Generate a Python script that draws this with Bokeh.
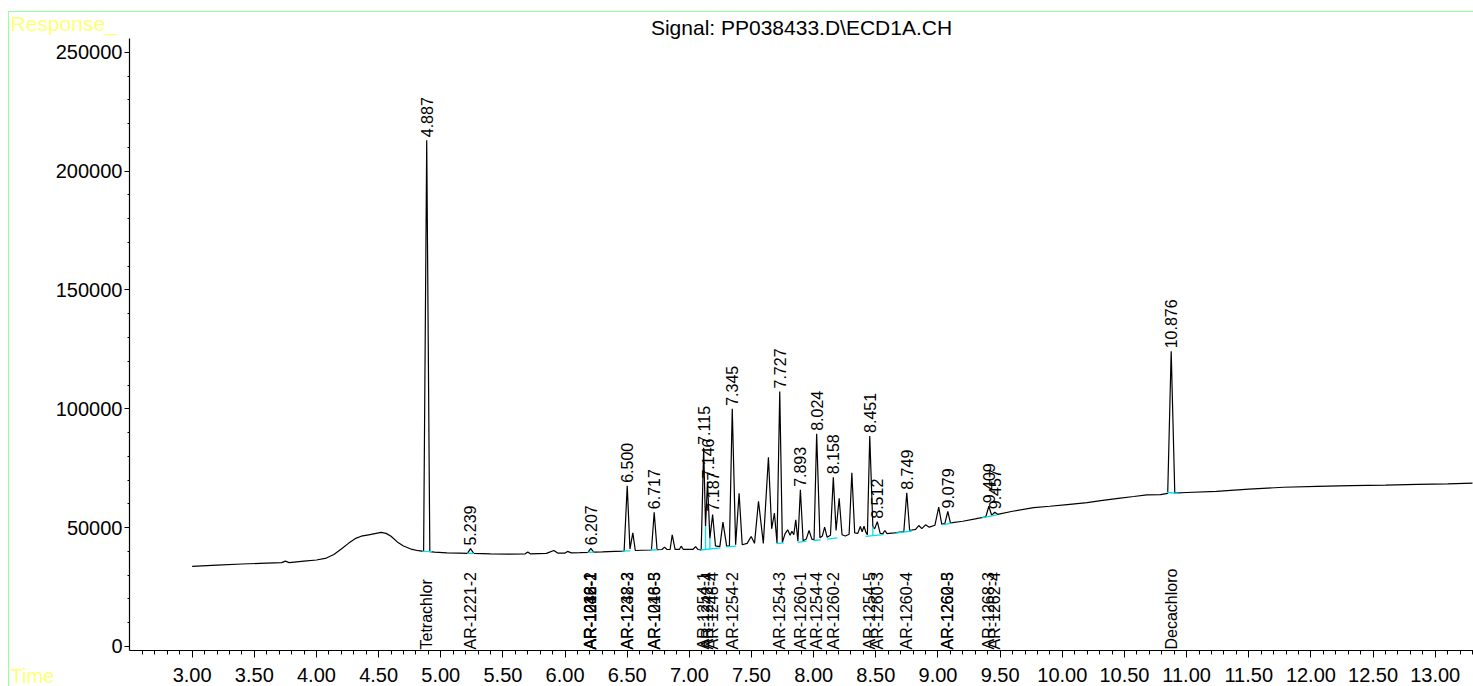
from bokeh.plotting import figure
from bokeh.models import (Range1d, FixedTicker, NumeralTickFormatter, BasicTickFormatter,
                          ColumnDataSource, LabelSet, Label)
from bokeh.core.properties import value
from bokeh.embed import file_html
from bokeh.resources import INLINE

# ---------------- data ----------------
title_text = "Signal: PP038433.D\\ECD1A.CH"

x_major_ticks = [3.0, 3.5, 4.0, 4.5, 5.0, 5.5, 6.0, 6.5, 7.0, 7.5, 8.0, 8.5, 9.0,
                 9.5, 10.0, 10.5, 11.0, 11.5, 12.0, 12.5, 13.0]
x_minor_ticks = [round(2.6 + 0.1 * i, 1) for i in range(108)]
y_major_ticks = [0, 50000, 100000, 150000, 200000, 250000]
y_minor_ticks = list(range(0, 260000, 10000))

# labelled (integrated) peaks: retention time, apex response
peak_rt = [4.887, 5.239, 6.207, 6.500, 6.717, 7.115, 7.146, 7.187, 7.345, 7.727,
           7.893, 8.024, 8.158, 8.451, 8.512, 8.749, 9.079, 9.409, 9.457, 10.876]
peak_height = [213000, 41200, 41300, 67600, 56500, 83600, 69400, 55500, 100000, 107300,
               65900, 89500, 71200, 88600, 52500, 64700, 56800, 59000, 56500, 124200]
peak_label = ["4.887", "5.239", "6.207", "6.500", "6.717", "7.115", "7.146", "7.187",
              "7.345", "7.727", "7.893", "8.024", "8.158", "8.451", "8.512", "8.749",
              "9.079", "9.409", "9.457", "10.876"]

# remaining points of the signal trace (baseline, peak feet, unlabelled peaks)
trace_t = [3.00, 3.20, 3.40, 3.60, 3.72, 3.75, 3.78, 3.90, 4.00, 4.08, 4.14, 4.20, 4.26,
           4.32, 4.36, 4.42, 4.47, 4.52, 4.56, 4.60, 4.65, 4.70, 4.76, 4.82, 4.862,
           4.912, 4.95, 5.05, 5.15, 5.215,
           5.265, 5.40, 5.55, 5.68, 5.70, 5.72, 5.85, 5.91, 5.94, 6.00, 6.02, 6.05, 6.12, 6.185,
           6.23, 6.30, 6.40, 6.475,
           6.522, 6.545, 6.565, 6.62, 6.695,
           6.74, 6.78, 6.80, 6.82, 6.845, 6.862, 6.885, 6.92, 6.934, 6.95, 7.03, 7.05, 7.07, 7.095,
           7.130, 7.165,
           7.21, 7.245, 7.27, 7.30, 7.322,
           7.372, 7.40, 7.425, 7.465, 7.497, 7.524, 7.556, 7.595, 7.636, 7.662, 7.684, 7.705,
           7.748, 7.77, 7.791, 7.81, 7.825, 7.84, 7.856, 7.873,
           7.915, 7.94, 7.963, 7.985, 8.003,
           8.05, 8.07, 8.088, 8.108, 8.135,
           8.18, 8.205, 8.228, 8.255, 8.285, 8.307, 8.33, 8.355, 8.375, 8.39, 8.405, 8.42, 8.432,
           8.476, 8.49,
           8.535, 8.555, 8.573, 8.59, 8.65, 8.725,
           8.772, 8.82, 8.845, 8.87, 8.90, 8.93, 8.975, 9.006, 9.03, 9.055,
           9.10, 9.20, 9.30, 9.385,
           9.432,
           9.48, 9.60, 9.77, 9.90, 10.04, 10.20, 10.31, 10.45, 10.575, 10.68, 10.79, 10.848,
           10.905, 11.00, 11.24, 11.50, 11.78, 12.05, 12.32, 12.60, 12.855, 13.10, 13.30]
trace_y = [33700, 34200, 34700, 35100, 35300, 35900, 35300, 35900, 36400, 37200, 38700, 41000, 43500,
           45600, 46400, 47000, 47500, 48000, 47600, 46400, 44000, 42300, 41000, 40300, 40000,
           39900, 39700, 39400, 39300, 39200,
           39200, 39000, 38900, 39000, 39800, 39000, 39200, 40400, 39300, 39300, 40000, 39400, 39500, 39600,
           39700, 39800, 40000, 40100,
           41000, 47800, 40400, 40500, 40600,
           40700, 40800, 41800, 40800, 40800, 47000, 40900, 40900, 42200, 40900, 40900, 42000, 40800, 40600,
           50600, 45500,
           42300, 42000, 52300, 42200, 42300,
           42800, 64500, 42800, 43400, 46300, 43400, 61100, 43400, 79600, 49500, 56100, 43600,
           43800, 47500, 49100, 46800, 48500, 47000, 53300, 44300,
           44500, 45200, 48800, 45200, 44900,
           45800, 46500, 50200, 46000, 46800,
           48800, 62400, 47000, 46500, 47200, 73100, 47800, 47600, 50500, 48300, 50600, 48000, 47000,
           50500, 49500,
           47600, 47400, 48800, 47500, 47800, 48300,
           48800, 49300, 50900, 49600, 51200, 50200, 51000, 58600, 51500, 51700,
           52000, 52700, 53700, 54600,
           55200,
           55600, 56900, 58400, 59000, 59700, 60500, 61400, 62300, 63100, 63800, 63900, 64400,
           64500, 64800, 65300, 66200, 67000, 67400, 67700, 67900, 68200, 68400, 68700]

# integration baselines (cyan): start time/response, end time/response
base_t0 = [4.852, 5.212, 6.182, 6.457, 6.687, 7.090, 7.296, 7.700, 7.872, 8.000, 8.108,
           8.417, 8.658, 9.033, 9.353, 10.838]
base_y0 = [40000, 39200, 39600, 40100, 40600, 40600, 41900, 43300, 43800, 44600, 45200,
           46300, 47700, 51200, 54100, 64900]
base_t1 = [4.930, 5.268, 6.235, 6.524, 6.741, 7.250, 7.377, 7.760, 7.942, 8.057, 8.190,
           8.562, 8.790, 9.114, 9.474, 10.937]
base_y1 = [39900, 39200, 39700, 40200, 40700, 41500, 42200, 43600, 44300, 44900, 45700,
           47100, 48600, 51900, 55400, 64300]
# drop lines separating co-eluting peaks
drop_t = [7.130, 7.165, 8.476]
drop_y0 = [40800, 41100, 46600]
drop_y1 = [50600, 45500, 50500]

# compound names at their expected retention times
compound_names = ["Tetrachlor", "AR-1221-2",
                  "AR-1016-1", "AR-1242-1", "AR-1248-1", "AR-1232-2",
                  "AR-1232-3", "AR-1248-2",
                  "AR-1016-3", "AR-1248-5",
                  "AR-1254-1", "AR-1242-4", "AR-1248-4",
                  "AR-1254-2", "AR-1254-3", "AR-1260-1", "AR-1254-4", "AR-1260-2",
                  "AR-1254-5", "AR-1260-3", "AR-1260-4",
                  "AR-1260-5", "AR-1262-3",
                  "AR-1268-3", "AR-1262-4",
                  "Decachloro"]
compound_rt = [4.887, 5.239,
               6.207, 6.207, 6.207, 6.207,
               6.500, 6.500,
               6.717, 6.717,
               7.115, 7.146, 7.187,
               7.345, 7.727, 7.893, 8.024, 8.158,
               8.451, 8.512, 8.749,
               9.079, 9.079,
               9.409, 9.457,
               10.876]

# ---------------- figure ----------------
FONT = "Liberation Sans"
GREEN = "#99ff99"
YELLOW = "#ffff77"

W, H = 1473, 686
AX_LEFT, AX_TOP, AX_BOTTOM = 129, 38, 650      # axis frame in canvas pixels
t0, t1 = 2.496, 13.308                          # time span of the axis
r0, r1 = -1683, 255800                          # response span of the axis
sx = (W - AX_LEFT) / (t1 - t0)
sy = (AX_BOTTOM - AX_TOP) / (r1 - r0)

# the frame fills the whole canvas; axes are pinned at the axis corner so that
# the report captions outside the axes are not clipped
p = figure(width=W, height=H, output_backend="svg", toolbar_location=None,
           x_range=Range1d(t0 - AX_LEFT / sx, t1),
           y_range=Range1d(r0 - (H - AX_BOTTOM) / sy, r1 + AX_TOP / sy),
           min_border_left=0, min_border_right=0, min_border_top=0, min_border_bottom=0)
p.outline_line_color = None
p.background_fill_color = None
p.border_fill_color = None
p.styles = {
    "background": (f"linear-gradient({GREEN}, {GREEN}) 8px 11px / 1px 100% no-repeat, "
                   f"linear-gradient({GREEN}, {GREEN}) 8px 11px / 100% 1px no-repeat, #ffffff"),
}
p.xgrid.visible = False
p.ygrid.visible = False

xa = p.xaxis[0]
xa.fixed_location = r0
xa.bounds = (t0, t1)
xa.ticker = FixedTicker(ticks=x_major_ticks, minor_ticks=x_minor_ticks)
xa.formatter = NumeralTickFormatter(format="0.00")
xa.major_tick_in = 0
xa.major_tick_out = 7
xa.minor_tick_in = 0
xa.minor_tick_out = 4
xa.major_label_standoff = 10
ya = p.yaxis[0]
ya.fixed_location = t0
ya.bounds = (r0, r1)
ya.ticker = FixedTicker(ticks=y_major_ticks, minor_ticks=y_minor_ticks)
ya.formatter = BasicTickFormatter(use_scientific=False)
ya.major_tick_in = 0
ya.major_tick_out = 5
ya.minor_tick_in = 0
ya.minor_tick_out = 2
ya.major_label_standoff = 2
for ax in (xa, ya):
    ax.axis_line_color = "black"
    ax.axis_line_width = 1.2
    ax.major_tick_line_color = "black"
    ax.minor_tick_line_color = "black"
    ax.major_label_text_font = FONT
    ax.major_label_text_font_size = "20px"
    ax.major_label_text_color = "black"

# signal trace
pts = sorted(zip(trace_t + peak_rt, trace_y + peak_height))
src = ColumnDataSource(dict(t=[a for a, b in pts], y=[b for a, b in pts]))
p.line("t", "y", source=src, line_color="black", line_width=1.2)

# integration baselines
p.segment(x0=base_t0, y0=base_y0, x1=base_t1, y1=base_y1, line_color="#00e0ee", line_width=1.3)
p.segment(x0=drop_t, y0=drop_y0, x1=drop_t, y1=drop_y1, line_color="#00e0ee", line_width=1.3)

# peak retention time labels
psrc = ColumnDataSource(dict(x=peak_rt, y=peak_height, text=peak_label))
p.add_layout(LabelSet(x="x", y="y", text="text", source=psrc, angle=90, angle_units="deg",
                      text_align="left", text_baseline="middle", y_offset=3,
                      text_font=value(FONT), text_font_size=value("16px"),
                      text_color="black"))

# compound names along the bottom
csrc = ColumnDataSource(dict(x=compound_rt, y=[0] * len(compound_rt), text=compound_names))
p.add_layout(LabelSet(x="x", y="y", text="text", source=csrc, angle=90, angle_units="deg",
                      text_align="left", text_baseline="middle", y_offset=-3,
                      text_font=value(FONT), text_font_size=value("16px"),
                      text_color="black"))

# title, centred over the axes
p.add_layout(Label(x=(AX_LEFT + W) / 2, y=H - 15, x_units="screen", y_units="screen",
                   text=title_text, text_font=FONT, text_font_size="21px",
                   text_color="black", text_align="center", text_baseline="top"))

# yellow captions of the original report
p.add_layout(Label(x=10, y=H - 11, x_units="screen", y_units="screen", text="Response_",
                   text_font=FONT, text_font_size="21px", text_color=YELLOW,
                   text_baseline="top", text_align="left"))
p.add_layout(Label(x=10, y=0, x_units="screen", y_units="screen", text="Time",
                   text_font=FONT, text_font_size="20px", text_color=YELLOW,
                   text_baseline="bottom", text_align="left"))

open("out.html", "w").write(file_html(p, INLINE))
